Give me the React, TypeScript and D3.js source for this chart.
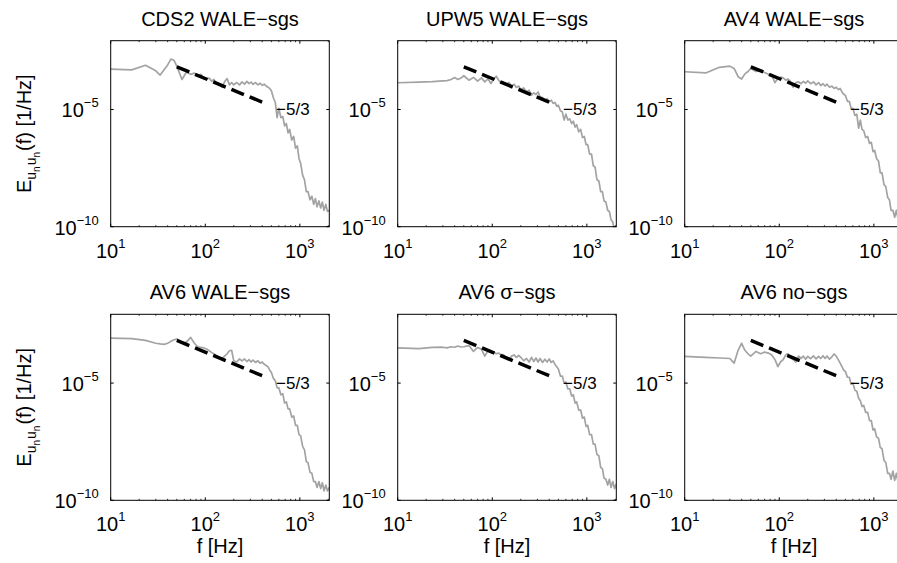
import React from 'react';
import * as d3 from 'd3';

// shared frequency grid [Hz]
const freqHz = [10, 16.7, 23.3, 30, 33.3, 36.7, 40, 43.3, 46.7, 50, 56.7, 63.3, 70, 76.7, 83.3, 90, 96.7, 103, 110, 117,
  123, 130, 140, 150, 160, 170, 180, 190, 200, 215, 230, 245, 260, 275, 290, 305, 320, 340, 360, 380,
  400, 420, 440, 460, 480, 500, 525, 550, 575, 600, 630, 660, 690, 720, 750, 780, 820, 860, 900, 940,
  980, 1020, 1070, 1120, 1170, 1220, 1280, 1340, 1400, 1460, 1520, 1590, 1660, 1730, 1800, 1880, 1960, 2048];

// log10 of E_unun(f) [1/Hz] for each case
const log10E_CDS2 = [-3.28, -3.31, -3.11, -3.35, -3.53, -3.3, -3.1, -2.85, -2.9, -3.15, -3.72, -3.4, -3.5, -3.45, -3.55, -3.5, -3.65, -3.7, -3.66, -3.8,
  -3.72, -3.85, -3.9, -4.05, -3.82, -3.68, -3.95, -3.85, -3.95, -3.85, -3.95, -3.82, -3.92, -3.8, -3.9, -3.83, -3.93, -3.85, -3.95, -3.88,
  -3.97, -3.92, -4.0, -4.05, -4.1, -4.2, -4.5, -4.7, -5.35, -4.95, -5.35, -5.3, -5.7, -5.6, -6.0, -5.85, -6.3, -6.15, -6.65, -6.55,
  -7.1, -7.3, -7.8, -8.0, -8.5, -8.5, -8.85, -8.7, -9.05, -8.8, -9.15, -8.9, -9.2, -8.95, -9.3, -9.05, -9.35, -9.3];

const log10E_UPW5 = [-3.86, -3.83, -3.81, -3.78, -3.77, -3.72, -3.64, -3.72, -3.66, -3.56, -3.75, -3.63, -3.79, -3.65, -3.82, -3.69, -3.89, -3.72, -3.58, -3.75,
  -3.86, -3.81, -3.92, -3.85, -4.0, -3.92, -4.06, -4.0, -4.15, -4.08, -4.25, -4.18, -4.39, -4.29, -4.36, -4.25, -4.46, -4.49, -4.6, -4.54,
  -4.67, -4.6, -4.74, -4.7, -4.86, -4.82, -5.05, -5.1, -5.45, -5.2, -5.45, -5.4, -5.6, -5.5, -5.75, -5.65, -5.95, -5.85, -6.2, -6.15,
  -6.5, -6.5, -6.9, -6.9, -7.4, -7.45, -8.0, -8.05, -8.5, -8.5, -8.9, -8.95, -9.3, -9.35, -9.7, -9.8, -10.2, -10.3];

const log10E_AV4 = [-3.39, -3.44, -3.2, -3.15, -3.25, -3.6, -3.7, -3.48, -3.38, -3.25, -3.38, -3.35, -3.42, -3.5, -3.55, -3.85, -3.68, -3.62, -3.65, -3.75,
  -3.7, -3.78, -4.05, -3.85, -3.82, -3.9, -3.8, -3.88, -3.78, -3.9, -3.82, -3.95, -3.85, -3.98, -3.9, -4.0, -3.92, -4.05, -4.0, -4.1,
  -4.05, -4.15, -4.1, -4.25, -4.35, -4.4, -4.65, -4.65, -4.95, -4.95, -5.25, -5.2, -5.8, -5.45, -5.85, -5.9, -6.2, -6.15, -6.45, -6.4,
  -6.8, -6.75, -7.1, -7.2, -7.7, -7.7, -8.2, -8.3, -8.75, -8.85, -9.3, -9.3, -9.6, -9.3, -9.65, -9.4, -9.7, -9.45];

const log10E_AV6_WALE = [-3.08, -3.1, -3.18, -3.3, -3.33, -3.35, -3.3, -3.22, -3.15, -3.12, -3.3, -3.25, -3.05, -3.3, -3.45, -3.48, -3.5, -3.55, -3.62, -3.7,
  -3.75, -3.82, -3.9, -3.97, -3.85, -3.75, -3.62, -3.6, -4.05, -4.1, -3.97, -4.05, -3.97, -4.08, -4.0, -4.1, -4.02, -4.12, -4.05, -4.15,
  -4.1, -4.2, -4.25, -4.3, -4.45, -4.55, -4.8, -4.9, -5.2, -5.2, -5.5, -5.45, -5.85, -5.8, -6.1, -6.1, -6.45, -6.4, -6.8, -6.8,
  -7.2, -7.25, -7.7, -7.85, -8.35, -8.4, -8.8, -8.85, -9.2, -9.2, -9.45, -9.2, -9.5, -9.25, -9.6, -9.35, -9.6, -9.45];

const log10E_AV6_sigma = [-3.5, -3.53, -3.48, -3.47, -3.5, -3.45, -3.47, -3.42, -3.46, -3.45, -3.4, -3.65, -3.48, -3.55, -3.85, -3.62, -3.7, -3.67, -3.75, -3.72,
  -3.8, -3.78, -3.9, -4.0, -3.85, -3.8, -3.9, -3.82, -3.9, -4.05, -3.95, -4.1, -3.9, -4.08, -3.93, -4.1, -3.95, -4.12, -3.98, -4.1,
  -3.97, -4.12, -4.05, -4.2, -4.3, -4.4, -4.7, -4.7, -5.0, -4.95, -5.25, -5.25, -5.55, -5.5, -5.85, -5.8, -6.15, -6.15, -6.5, -6.45,
  -6.85, -6.8, -7.2, -7.2, -7.6, -7.6, -8.05, -8.1, -8.6, -8.65, -9.05, -9.1, -9.35, -9.1, -9.45, -9.2, -9.5, -9.3];

const log10E_AV6_none = [-3.86, -3.9, -3.93, -3.95, -4.15, -3.6, -3.3, -3.6, -3.75, -3.85, -3.65, -3.75, -3.68, -3.72, -3.8, -4.0, -4.3, -4.1, -4.0, -3.8,
  -3.75, -3.9, -4.0, -4.1, -3.85, -3.95, -3.85, -3.98, -3.86, -3.96, -3.84, -3.97, -3.86, -3.95, -3.83, -3.95, -3.84, -3.98, -3.88, -3.76,
  -3.85, -4.0, -4.15, -4.3, -4.45, -4.5, -4.75, -4.75, -5.05, -5.0, -5.3, -5.35, -5.65, -5.75, -6.0, -5.95, -6.25, -6.25, -6.6, -6.6,
  -7.0, -6.95, -7.3, -7.35, -7.75, -7.8, -8.3, -8.4, -8.85, -8.85, -9.1, -8.75, -9.15, -8.85, -9.2, -8.9, -9.25, -8.95];

const titles = ['CDS2 WALE\u2212sgs', 'UPW5 WALE\u2212sgs', 'AV4 WALE\u2212sgs', 'AV6 WALE\u2212sgs', 'AV6 \u03c3\u2212sgs', 'AV6 no\u2212sgs'];
const series = [log10E_CDS2, log10E_UPW5, log10E_AV4, log10E_AV6_WALE, log10E_AV6_sigma, log10E_AV6_none];

// -5/3 reference slope
const slopeF = [50, 400];
const slopeE = [6.6e-4, 2.07e-5];
const slopeLabel = '\u22125/3';
const slopeLabelF = 560;
const slopeLabelE = 1e-5;

const xTicks = [10, 100, 1000];
const xTickExp = ['1', '2', '3'];
const xMinorTicks = [20, 30, 40, 50, 60, 70, 80, 90, 200, 300, 400, 500, 600, 700, 800, 900, 2000];
const yTicks = [1e-10, 1e-5];
const yTickExp = ['\u221210', '\u22125'];

const xDomain = [10, 2048];
const yDomain = [1e-10, 8.6e-3];

const FONT = "'Liberation Sans', Arial, Helvetica, sans-serif";

export default function App() {
  const W = 897, H = 563;
  const left0 = 110.7, colStep = 287, pw = 218.6;
  const top0 = 40.7, rowStep = 273.6, ph = 186;

  const panels = titles.map((t, i) => {
    const col = i % 3, row = Math.floor(i / 3);
    const x0 = left0 + col * colStep;
    const y0 = top0 + row * rowStep;
    const xs = d3.scaleLog().domain(xDomain).range([x0, x0 + pw]);
    const ys = d3.scaleLog().domain(yDomain).range([y0 + ph, y0]);
    const pts = freqHz.map((f, k) => [f, Math.pow(10, series[i][k])] as [number, number]);
    const line = d3.line<[number, number]>().x(d => xs(d[0])).y(d => ys(d[1]));
    const slopePts = slopeF.map((f, k) => [f, slopeE[k]] as [number, number]);
    const clipId = `clip${i}`;
    return (
      <g key={i}>
        <defs>
          <clipPath id={clipId}>
            <rect x={x0} y={y0} width={pw} height={ph} />
          </clipPath>
        </defs>
        <text x={x0 + pw / 2} y={y0 - 15} textAnchor="middle" fontSize={20}>{t}</text>
        <g clipPath={`url(#${clipId})`}>
          <path d={line(pts) || ''} fill="none" stroke="#a3a3a3" strokeWidth={1.7} strokeLinejoin="round" />
          <path d={line(slopePts) || ''} fill="none" stroke="#000" strokeWidth={3.5} strokeDasharray="13.5 6.2" />
        </g>
        <text x={xs(slopeLabelF)} y={ys(slopeLabelE) + 6} fontSize={17}>{slopeLabel}</text>
        <rect x={x0} y={y0} width={pw} height={ph} fill="none" stroke="#000" strokeWidth={1} />
        {xTicks.map((v) => (
          <g key={'xt' + v}>
            <line x1={xs(v)} x2={xs(v)} y1={y0 + ph} y2={y0 + ph - 3} stroke="#000" />
            <line x1={xs(v)} x2={xs(v)} y1={y0} y2={y0 + 3} stroke="#000" />
          </g>
        ))}
        {xMinorTicks.map((v) => (
          <g key={'xm' + v}>
            <line x1={xs(v)} x2={xs(v)} y1={y0 + ph} y2={y0 + ph - 1.5} stroke="#000" strokeWidth={0.8} />
            <line x1={xs(v)} x2={xs(v)} y1={y0} y2={y0 + 1.5} stroke="#000" strokeWidth={0.8} />
          </g>
        ))}
        {yTicks.map((v) => (
          <g key={'yt' + v}>
            <line x1={x0} x2={x0 + 3} y1={ys(v)} y2={ys(v)} stroke="#000" />
            <line x1={x0 + pw} x2={x0 + pw - 3} y1={ys(v)} y2={ys(v)} stroke="#000" />
          </g>
        ))}
        {xTicks.map((v, k) => (
          <text key={'xl' + v} x={xs(v)} y={y0 + ph + 31} textAnchor="middle" fontSize={20}>
            10<tspan dy={-10} fontSize={13}>{xTickExp[k]}</tspan>
          </text>
        ))}
        {yTicks.map((v, k) => (
          <text key={'yl' + v} x={x0 - 12} y={ys(v) + 8} textAnchor="end" fontSize={20}>
            10<tspan dy={-10} fontSize={13}>{yTickExp[k]}</tspan>
          </text>
        ))}
        {col === 0 && (
          <text transform={`translate(31, ${y0 + ph / 2}) rotate(-90)`} textAnchor="middle" fontSize={20}>
            E<tspan dy={5} fontSize={14}>u</tspan><tspan dy={4} fontSize={10}>n</tspan>
            <tspan dy={-4} dx={1} fontSize={14}>u</tspan><tspan dy={4} fontSize={10}>n</tspan>
            <tspan dy={-9} dx={1} fontSize={20}>(f) [1/Hz]</tspan>
          </text>
        )}
        {row === 1 && (
          <text x={x0 + pw / 2} y={553} textAnchor="middle" fontSize={20}>f [Hz]</text>
        )}
      </g>
    );
  });

  return (
    <svg width={W} height={H} style={{ position: 'absolute', left: 0, top: 0, overflow: 'hidden', background: '#fff' }}
      fontFamily={FONT} fill="#000">
      <rect x={0} y={0} width={W} height={H} fill="#fff" />
      {panels}
    </svg>
  );
}
